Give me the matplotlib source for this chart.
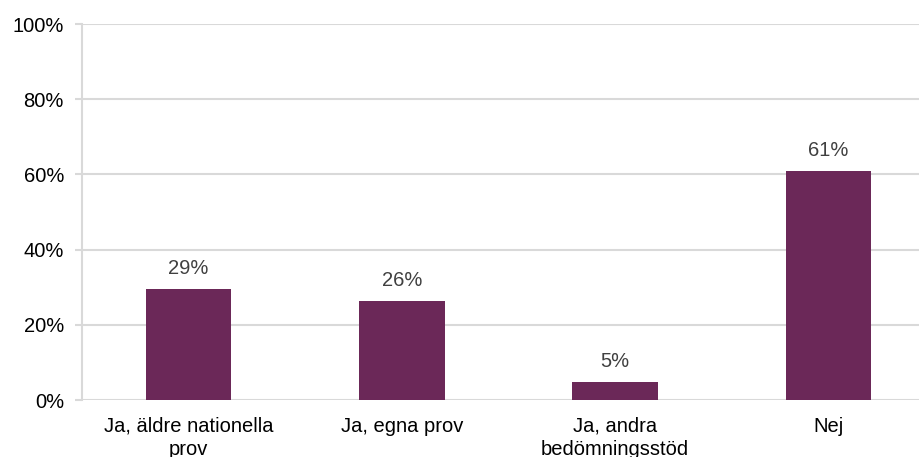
import matplotlib
matplotlib.use("Agg")
import matplotlib.pyplot as plt
from matplotlib.ticker import FuncFormatter

categories = ["Ja, äldre nationella\nprov", "Ja, egna prov", "Ja, andra\nbedömningsstöd", "Nej"]
values = [29.4, 26.3, 4.8, 60.9]
yticks = [0, 20, 40, 60, 80, 100]

plt.rcParams['font.family'] = ['Liberation Sans', 'DejaVu Sans']

fig = plt.figure(figsize=(9.2, 4.57), dpi=100)
W, H = 920, 457
left, right, top, bottom = 82, 935, 24, 400
ax = fig.add_axes([left / W, 1 - bottom / H, (right - left) / W, (bottom - top) / H])

FS = 14.5
x = list(range(len(categories)))
ax.bar(x, values, width=0.4, color="#6B2858", zorder=3)
for xi, v in zip(x, values):
    ax.text(xi, v + 3.0, f"{round(v)}%", ha="center", va="bottom", fontsize=FS, color="#404040")

ax.set_xlim(-0.5, len(categories) - 0.5)
ax.set_ylim(0, 100)
ax.set_yticks(yticks)
ax.yaxis.set_major_formatter(FuncFormatter(lambda v, p: f"{int(v)}%"))
ax.set_xticks(x)
ax.set_xticklabels(categories, fontsize=FS, color="#000000", linespacing=1.3)
ax.tick_params(axis="y", labelsize=FS, colors="#000000", length=5, width=1.5, color="#D9D9D9", pad=8)
ax.tick_params(axis="x", length=0, pad=12)
ax.grid(axis="y", color="#D9D9D9", linewidth=1.5, zorder=0)
for s in ["top", "right", "bottom"]:
    ax.spines[s].set_visible(False)
ax.spines["left"].set_color("#D9D9D9")
ax.spines["left"].set_linewidth(1.5)

fig.savefig("out.png", dpi=100)
